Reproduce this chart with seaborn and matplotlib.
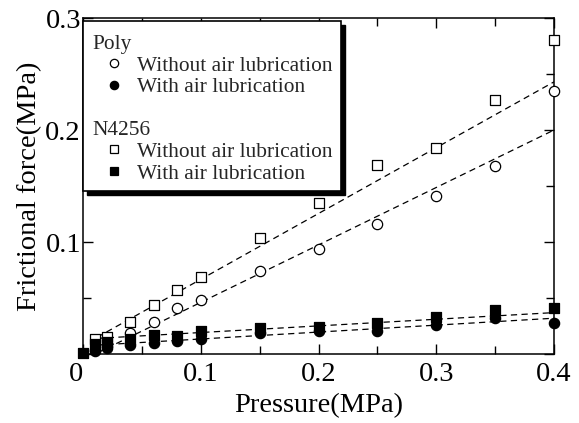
import matplotlib
matplotlib.use("Agg")
import matplotlib.pyplot as plt
import numpy as np
import pandas as pd
import seaborn as sns
from matplotlib.lines import Line2D
from matplotlib.patches import Rectangle
from matplotlib.ticker import MultipleLocator

# measured points (MPa)
pressure = [0.01, 0.02, 0.04, 0.06, 0.08, 0.10, 0.15, 0.20, 0.25, 0.30, 0.35, 0.40]
poly_without = [0.004, 0.007, 0.019, 0.029, 0.041, 0.048, 0.074, 0.094, 0.116, 0.141, 0.168, 0.235]
poly_with = [0.003, 0.005, 0.008, 0.010, 0.012, 0.013, 0.019, 0.021, 0.021, 0.026, 0.032, 0.028]
n4256_without = [0.013, 0.015, 0.029, 0.044, 0.057, 0.069, 0.104, 0.135, 0.169, 0.184, 0.227, 0.280]
n4256_with_pressure = [0.0] + pressure
n4256_with = [0.001, 0.009, 0.011, 0.013, 0.017, 0.016, 0.021, 0.023, 0.024, 0.028, 0.033, 0.039, 0.041]

# dashed fit lines (end points)
fit_x = [0.012, 0.40]
fit_poly_without = [0.001, 0.200]
fit_poly_with = [0.008, 0.032]
fit_n4256_without = [0.015, 0.243]
fit_n4256_with = [0.014, 0.037]

x_ticks = [0.0, 0.1, 0.2, 0.3, 0.4]
x_tick_labels = ["0", "0.1", "0.2", "0.3", "0.4"]
y_ticks = [0.0, 0.1, 0.2, 0.3]
y_tick_labels = ["", "0.1", "0.2", "0.3"]

sns.set_theme(style="ticks")
plt.rcParams["font.family"] = ["Liberation Serif", "DejaVu Serif"]

fig = plt.figure(figsize=(5.79, 4.23), dpi=100)
ax = fig.add_axes([0.1434, 0.163, 0.8134, 0.7944])

for fy in [fit_poly_without, fit_poly_with, fit_n4256_without, fit_n4256_with]:
    sns.lineplot(x=fit_x, y=fy, ax=ax, color="black", linewidth=0.9,
                 linestyle=(0, (5, 3.5)), zorder=2)

series = [
    (pressure, poly_without, "o", "white"),
    (pressure, poly_with, "o", "black"),
    (pressure, n4256_without, "s", "white"),
    (n4256_with_pressure, n4256_with, "s", "black"),
]
for xs, ys, mk, fc in series:
    df = pd.DataFrame({"p": xs, "f": ys})
    sns.scatterplot(data=df, x="p", y="f", ax=ax, marker=mk, s=55,
                    facecolor=fc, edgecolor="black", linewidth=0.9,
                    clip_on=False, zorder=3)

ax.set_xlim(0, 0.4)
ax.set_ylim(0, 0.3)
ax.set_xticks(x_ticks, x_tick_labels)
ax.set_yticks(y_ticks, y_tick_labels)
ax.get_xticklabels()[0].set_horizontalalignment("right")
ax.xaxis.set_minor_locator(MultipleLocator(0.05))
ax.yaxis.set_minor_locator(MultipleLocator(0.05))
ax.tick_params(which="both", direction="in", top=True, right=True,
               width=1.0, labelsize=20.5, color="black", labelcolor="black")
ax.tick_params(which="major", length=7)
ax.tick_params(which="minor", length=5.5)
ax.tick_params(axis="x", which="major", pad=6)
ax.tick_params(axis="y", which="major", pad=1.5)
for sp in ax.spines.values():
    sp.set_linewidth(1.1)
    sp.set_color("black")

ax.set_xlabel("Pressure(MPa)", fontsize=20.5, labelpad=4, color="black")
ax.set_ylabel("Frictional force(MPa)", fontsize=20.5, labelpad=2, color="black")

# legend box with drop shadow
bw, bh = 0.548, 0.506
by = 0.486
ax.add_patch(Rectangle((4 / 471, by - 4 / 336), bw, bh, transform=ax.transAxes,
                       facecolor="black", edgecolor="black", zorder=5, clip_on=False))
ax.add_patch(Rectangle((0, by), bw, bh, transform=ax.transAxes,
                       facecolor="white", edgecolor="black", linewidth=1.2,
                       zorder=6, clip_on=False))


def group_handles(mk):
    return [
        Line2D([], [], marker=mk, linestyle="none", markersize=6,
               markerfacecolor="white", markeredgecolor="black", markeredgewidth=0.9),
        Line2D([], [], marker=mk, linestyle="none", markersize=6,
               markerfacecolor="black", markeredgecolor="black", markeredgewidth=0.9),
    ]


labels = ["Without air lubrication", "With air lubrication"]
leg_kw = dict(loc="upper left", frameon=False, fontsize=15.4, title_fontsize=15.4,
              alignment="left", handlelength=1.95, handletextpad=0.12,
              labelspacing=0.08, borderpad=0, borderaxespad=0)
leg1 = ax.legend(group_handles("o"), labels, title="Poly",
                 bbox_to_anchor=(0.021, 0.950), **leg_kw)
leg1.set_zorder(7)
ax.add_artist(leg1)
leg2 = ax.legend(group_handles("s"), labels, title="N4256",
                 bbox_to_anchor=(0.021, 0.693), **leg_kw)
leg2.set_zorder(7)

fig.savefig("out.png", dpi=100)
